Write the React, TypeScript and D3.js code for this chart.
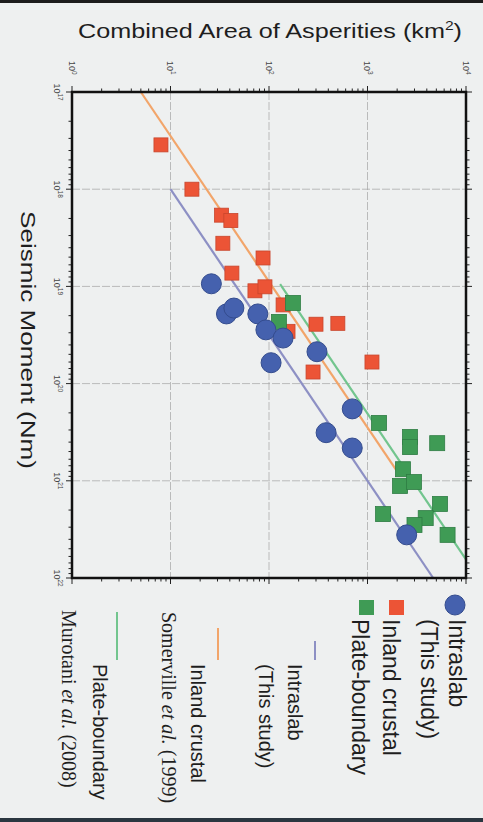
import React from 'react'
import * as d3 from 'd3'

// decades on both log axes
const areaDecades = [1, 10, 100, 1000, 10000]
const areaExp = ['0', '1', '2', '3', '4']
const momentDecades = [1e17, 1e18, 1e19, 1e20, 1e21, 1e22]
const momentExp = ['17', '18', '19', '20', '21', '22']

// [seismic moment (Nm), combined area of asperities (km2)]
const intraslab: [number, number][] = [
  [9.4e18, 26], [1.92e19, 37], [1.67e19, 44], [1.92e19, 77], [2.8e19, 93], [3.4e19, 139],
  [6.1e19, 105], [4.7e19, 307], [1.82e20, 700], [3.2e20, 380], [4.6e20, 700], [3.6e21, 2500],
]
const inlandCrustal: [number, number][] = [
  [3.5e17, 8.0], [1.0e18, 16.5], [1.85e18, 33], [2.1e18, 41], [3.6e18, 34], [5.1e18, 87],
  [7.3e18, 42], [1.11e19, 72], [1.01e19, 91], [1.55e19, 139], [2.9e19, 156], [2.45e19, 300],
  [2.4e19, 500], [6.0e19, 1110], [7.6e19, 280],
]
const plateBoundary: [number, number][] = [
  [1.48e19, 175], [2.32e19, 126], [2.54e20, 1310], [3.54e20, 2700], [4.5e20, 2700], [4.1e20, 5100],
  [7.6e20, 2290], [1.13e21, 2140], [1.03e21, 2960], [2.2e21, 1440], [1.73e21, 5450], [2.42e21, 3900],
  [2.85e21, 3000], [3.6e21, 6500],
]

// scaling relations S = c * M0^(2/3), drawn between two moments
const scalingNames = ['intraslab', 'inland', 'plate']
const scalingCoef = [1.0e-11, 2.32e-11, 2.89e-11]
const scalingFrom = [1e18, 1e17, 9.5e18]
const scalingTo = [1e22, 8e20, 6.5e21]

const lineColor: Record<string, string> = { intraslab: '#8d90c4', inland: '#f2a56a', plate: '#72c58e' }

const W = 483
const H = 822

const x = d3.scaleLog().domain([1, 1e4]).range([72, 466])
const y = d3.scaleLog().domain([1e17, 1e22]).range([92, 578])

const sans = '"Liberation Sans", Arial, Helvetica, sans-serif'
const serif = '"Liberation Serif", "Times New Roman", serif'

const App: React.FC = () => {
  const areaTicks = x.ticks()
  const momentTicks = y.ticks()
  const isDecade = (v: number) => Math.abs(Math.log10(v) - Math.round(Math.log10(v))) < 1e-6
  const [x0, x1] = x.range()
  const [y0, y1] = y.range()

  const rel = d3.line<[number, number]>()
    .x(d => x(d[1]))
    .y(d => y(d[0]))

  return (
    <svg width={W} height={H} style={{ position: 'absolute', left: 0, top: 0, background: '#eef0f0' }}>
      <rect x={0} y={0} width={W} height={3} fill="#1c1c1c" />
      <rect x={0} y={H - 4} width={W} height={4} fill="#2a3640" />

      {/* title on top */}
      <text x={270} y={38} fontFamily={sans} fontSize={21} fill="#1e1e1e" textAnchor="middle"
        textLength={384} lengthAdjust="spacingAndGlyphs">
        Combined Area of Asperities (km<tspan dy={-8} fontSize={13}>2</tspan><tspan dy={8}>)</tspan>
      </text>

      {/* moment axis label */}
      <text transform="translate(21,340) rotate(90)" fontFamily={sans} fontSize={21} fill="#1e1e1e"
        textAnchor="middle" textLength={258} lengthAdjust="spacingAndGlyphs">
        Seismic Moment (Nm)
      </text>

      {/* grid */}
      <g stroke="#a4a4a4" strokeWidth={0.7} strokeDasharray="8,2">
        {areaDecades.slice(1, -1).map(v => (
          <line key={'ga' + v} x1={x(v)} x2={x(v)} y1={y0} y2={y1} />
        ))}
        {momentDecades.slice(1, -1).map(v => (
          <line key={'gm' + v} x1={x0} x2={x1} y1={y(v)} y2={y(v)} />
        ))}
      </g>

      {/* ticks, outward on all sides */}
      <g stroke="#222" strokeWidth={1}>
        {areaTicks.map(v => {
          const l = isDecade(v) ? 6 : 3.5
          return (
            <g key={'ta' + v}>
              <line x1={x(v)} x2={x(v)} y1={y0} y2={y0 - l} />
              <line x1={x(v)} x2={x(v)} y1={y1} y2={y1 + l} />
            </g>
          )
        })}
        {momentTicks.map(v => {
          const l = isDecade(v) ? 6 : 3.5
          return (
            <g key={'tm' + v}>
              <line x1={x0} x2={x0 - l} y1={y(v)} y2={y(v)} />
              <line x1={x1} x2={x1 + l} y1={y(v)} y2={y(v)} />
            </g>
          )
        })}
      </g>

      {/* tick labels */}
      {areaDecades.map((v, i) => (
        <text key={'la' + v} transform={`translate(${x(v) - 3.5},61) rotate(90)`}
          fontFamily={sans} fontSize={9} fill="#444">
          10<tspan dy={-3.5} fontSize={6.5}>{areaExp[i]}</tspan>
        </text>
      ))}
      {momentDecades.map((v, i) => (
        <text key={'lm' + v} transform={`translate(54,${y(v)}) rotate(90)`}
          fontFamily={sans} fontSize={9} fill="#444" textAnchor="middle">
          10<tspan dy={-3.5} fontSize={6.5}>{momentExp[i]}</tspan>
        </text>
      ))}

      {/* scaling relations */}
      {scalingNames.map((n, i) => {
        const pts: [number, number][] = [scalingFrom[i], scalingTo[i]].map(m => [m, scalingCoef[i] * Math.pow(m, 2 / 3)])
        return <path key={n} d={rel(pts) || ''} fill="none" stroke={lineColor[n]} strokeWidth={2.2} />
      })}

      {/* data */}
      {inlandCrustal.map((d, i) => (
        <rect key={'r' + i} x={x(d[1]) - 7} y={y(d[0]) - 7} width={14} height={14}
          fill="#ec5436" stroke="#c8452c" strokeWidth={0.8} />
      ))}
      {plateBoundary.map((d, i) => (
        <rect key={'g' + i} x={x(d[1]) - 7.5} y={y(d[0]) - 7.5} width={15} height={15}
          fill="#3f9b55" stroke="#2f7d44" strokeWidth={0.8} />
      ))}
      {intraslab.map((d, i) => (
        <circle key={'b' + i} cx={x(d[1])} cy={y(d[0])} r={10}
          fill="#4561ae" stroke="#344c8e" strokeWidth={1} />
      ))}

      {/* frame */}
      <rect x={x0} y={y0} width={x1 - x0} height={y1 - y0} fill="none" stroke="#111" strokeWidth={2.5} />

      {/* legend */}
      <circle cx={455} cy={605} r={10} fill="#4561ae" stroke="#344c8e" />
      <rect x={389} y={600} width={15} height={15} fill="#ec5436" />
      <rect x={359} y={600} width={15} height={15} fill="#3f9b55" />
      <g fontFamily={sans} fontSize={23} fill="#1e1e1e">
        <text transform="translate(449,619) rotate(90)">Intraslab</text>
        <text transform="translate(421,619) rotate(90)">(This study)</text>
        <text transform="translate(383,619) rotate(90)">Inland crustal</text>
        <text transform="translate(352,619) rotate(90)">Plate-boundary</text>
      </g>

      <line x1={315} x2={315} y1={641} y2={660} stroke={lineColor.intraslab} strokeWidth={2} />
      <line x1={218} x2={218} y1={628} y2={660} stroke={lineColor.inland} strokeWidth={2} />
      <line x1={117} x2={117} y1={612} y2={660} stroke={lineColor.plate} strokeWidth={2} />
      <g fontFamily={sans} fontSize={20} fill="#1e1e1e">
        <text transform="translate(288,664) rotate(90)">Intraslab</text>
        <text transform="translate(259,664) rotate(90)">(This study)</text>
        <text transform="translate(191,664) rotate(90)">Inland crustal</text>
        <text transform="translate(93,664) rotate(90)">Plate-boundary</text>
      </g>
      <g fontFamily={serif} fontSize={20} fill="#1e1e1e">
        <text transform="translate(162,612) rotate(90)">Somerville <tspan fontStyle="italic">et al.</tspan> (1999)</text>
        <text transform="translate(62,610) rotate(90)">Murotani <tspan fontStyle="italic">et al.</tspan> (2008)</text>
      </g>
    </svg>
  )
}

export default App
